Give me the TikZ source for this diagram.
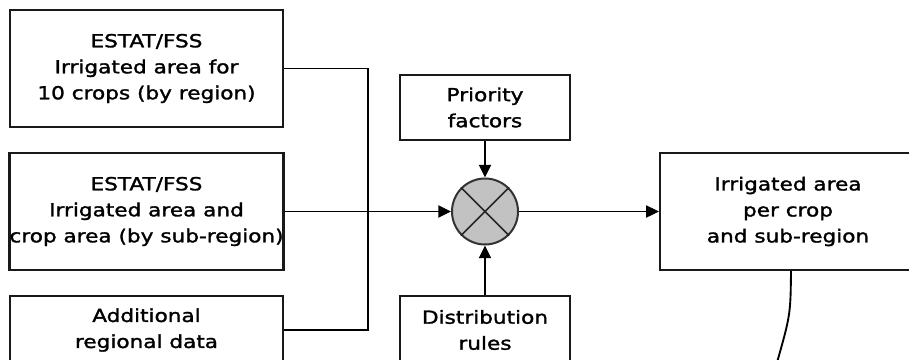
\documentclass[tikz,border=0pt]{standalone}
\usepackage{fontspec}
\setmainfont{DejaVu Sans}[FakeStretch=1.2,FakeBold=1.6]
\usetikzlibrary{arrows.meta}
\begin{document}
\begin{tikzpicture}[x=0.75pt,y=-0.75pt,
  font=\fontsize{13.5pt}{19.5pt}\selectfont,
  box/.style={draw=black!90,line width=1.7pt,fill=white,align=center,inner sep=0pt,
    minimum width={#1*0.75pt}},
  box/.default=273,
  conn/.style={line width=1.4pt,black},
  arr/.style={conn,-{Triangle[length=9.5pt,width=9pt]}},
  mixer/.style={circle,draw=black!80,line width=1.5pt,fill=black!24,minimum size=49.5pt,inner sep=0pt}]
\useasboundingbox (0,0) rectangle (909,360);
\clip (0,0) rectangle (909,360);
\fill[white] (0,0) rectangle (909,360);

\node[box,minimum height=87.75pt] (b1) at (146.5,68.5) {ESTAT/FSS\\Irrigated area for\\10 crops (by region)};
\node[box,minimum height=87.75pt] (b2) at (146.5,211.5) {ESTAT/FSS\\Irrigated area and\\crop area (by sub-region)};
\node[box,minimum height=51pt] (b3) at (146.5,330) {Additional\\regional data};

\node[box=170,minimum height=48.75pt] (pf) at (485,107.5) {Priority\\factors};
\node[box=170,minimum height=51pt] (dr) at (485,330) {Distribution\\rules};

\node[mixer] (mx) at (485,211.5) {};
\draw[line width=1.2pt,black!85] (mx.45) -- (mx.225) (mx.135) -- (mx.315);

\node[box=256,minimum height=87.75pt] (out) at (788,211.5) {Irrigated area\\per crop\\and sub-region};

\coordinate (j1) at (368,68.5);
\coordinate (j3) at (368,330);
\coordinate (ce) at (776,366);

\draw[conn] (b1.east) -- (j1) -- (j3) -- (b3.east);
\draw[arr] (b2.east) -- (mx.west);
\draw[arr] (pf.south) -- (mx.north);
\draw[arr] (dr.north) -- (mx.south);
\draw[arr] (mx.east) -- (out.west);
\draw[conn] ([xshift=2.25pt]out.south) .. controls (790.5,315) .. (ce);
\end{tikzpicture}
\end{document}
